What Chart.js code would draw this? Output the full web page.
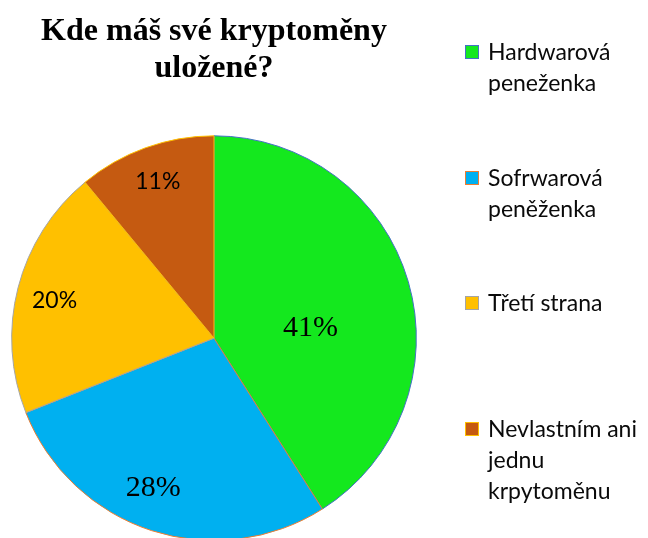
<!DOCTYPE html>
<html>
<head>
<meta charset="utf-8">
<script src="https://cdn.jsdelivr.net/npm/chart.js@4.4.0/dist/chart.umd.min.js"></script>
<style>
    html, body { margin: 0; padding: 0; background: #ffffff; overflow: hidden; }
    #wrap { position: relative; width: 648px; height: 538px; overflow: hidden; }
    #walletChart { position: absolute; left: 0; top: 0; }
    #legend { position: absolute; left: 465px; top: 36px; font-family: Lato, sans-serif; font-size: 23px; line-height: 31px; color: #0a0a0a; }
    .item { display: flex; align-items: flex-start; height: 125.5px; }
    .swatch { width: 12px; height: 12px; margin-top: 9px; margin-right: 9px; border-width: 1.5px; border-style: solid; flex: none; }
</style>
</head>
<body>
<div id="wrap">
    <canvas id="walletChart" width="648" height="548"></canvas>
    <div id="legend"></div>
</div>
<script>
// Kde máš své kryptoměny uložené? - pie chart data
const categories = [
    ['Hardwarová', 'peneženka'],
    ['Sofrwarová', 'peněženka'],
    ['Třetí strana'],
    ['Nevlastním ani', 'jednu', 'krpytoměnu']
];
const shares = [41, 28, 20, 11];
const sliceColors = ['#14E81E', '#00B0F0', '#FFC000', '#C55A11'];
const sliceBorders = ['#4472C4', '#ED7D31', '#A5A5A5', '#FFC000'];

// percentage labels drawn inside the slices
const pieLabels = {
    id: 'pieLabels',
    afterDatasetsDraw(chart, args, opts) {
        const ctx = chart.ctx;
        const meta = chart.getDatasetMeta(0);
        const values = chart.data.datasets[0].data;
        meta.data.forEach((arc, i) => {
            const p = arc.getProps(['x', 'y', 'startAngle', 'endAngle', 'outerRadius'], true);
            const mid = (p.startAngle + p.endAngle) / 2 + opts.shift[i] * Math.PI / 180;
            const r = p.outerRadius * opts.radius[i];
            ctx.save();
            ctx.font = opts.fonts[i];
            ctx.fillStyle = '#000000';
            ctx.textAlign = 'center';
            ctx.textBaseline = 'middle';
            ctx.fillText(values[i] + '%', p.x + Math.cos(mid) * r, p.y + Math.sin(mid) * r);
            ctx.restore();
        });
    }
};

const chart = new Chart(document.getElementById('walletChart'), {
    type: 'pie',
    data: {
        labels: categories,
        datasets: [{
            data: shares,
            backgroundColor: sliceColors,
            borderColor: sliceBorders,
            borderWidth: 1
        }]
    },
    options: {
        responsive: false,
        animation: false,
        devicePixelRatio: 1,
        layout: {
            padding: { left: 11, right: 231, top: 0, bottom: 7 }
        },
        plugins: {
            title: {
                display: true,
                text: ['Kde máš své kryptoměny', 'uložené?'],
                color: '#000000',
                font: { family: '"Liberation Serif", serif', size: 32, weight: 'bold', lineHeight: 1.13 },
                padding: { top: 14, bottom: 49 }
            },
            legend: { display: false },
            tooltip: { enabled: false },
            pieLabels: {
                fonts: ['30px "Liberation Serif"', '30px "Liberation Serif"', '23px Lato', '23px Lato'],
                radius: [0.48, 0.80, 0.81, 0.82],
                shift: [10, 4, -1, 0]
            }
        }
    },
    plugins: [pieLabels]
});

// legend built from the chart's own legend items
const legendBox = document.getElementById('legend');
chart.options.plugins.legend.labels.generateLabels(chart).forEach(item => {
    const row = document.createElement('div');
    row.className = 'item';
    const sw = document.createElement('span');
    sw.className = 'swatch';
    sw.style.background = item.fillStyle;
    sw.style.borderColor = item.strokeStyle;
    const txt = document.createElement('span');
    txt.innerHTML = [].concat(item.text).join('<br>');
    row.appendChild(sw);
    row.appendChild(txt);
    legendBox.appendChild(row);
});
</script>
</body>
</html>
